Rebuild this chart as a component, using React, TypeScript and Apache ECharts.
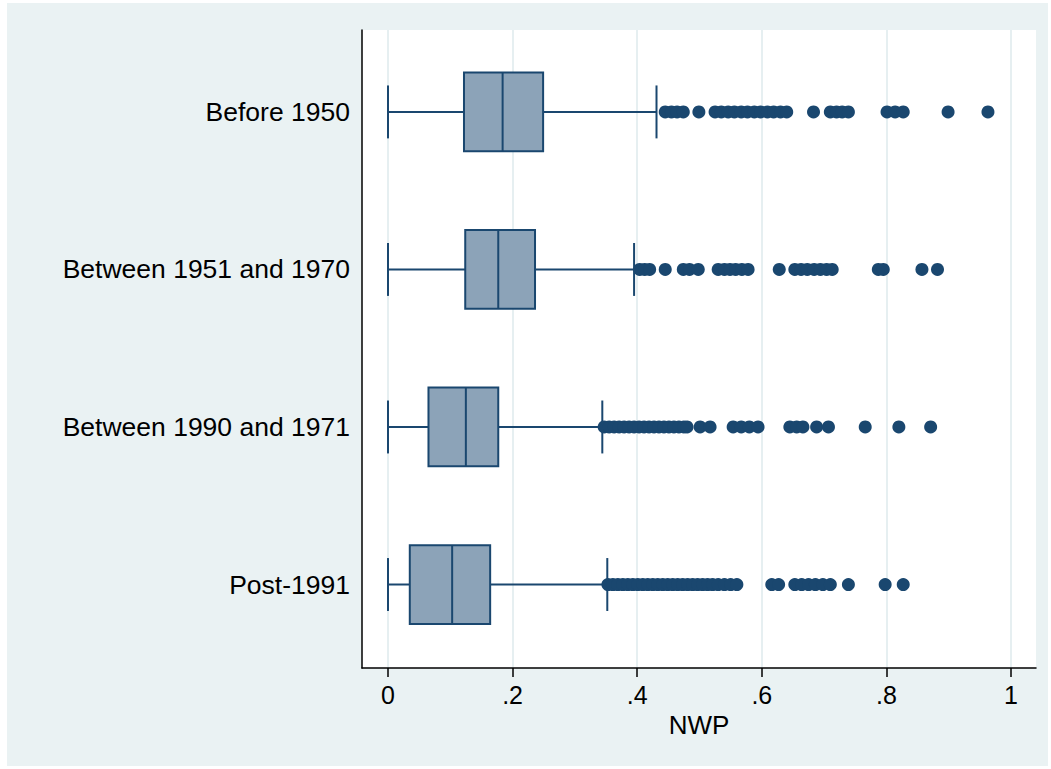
import React, { useEffect, useRef } from "react";
import * as echarts from "echarts";

const categories = ["Before 1950", "Between 1951 and 1970", "Between 1990 and 1971", "Post-1991"];

const lowerWhiskers = [0, 0, 0, 0];
const q1s = [0.122, 0.124, 0.065, 0.035];
const medians = [0.184, 0.177, 0.125, 0.103];
const q3s = [0.249, 0.236, 0.177, 0.164];
const upperWhiskers = [0.431, 0.395, 0.344, 0.352];

const outliersBefore1950 = [
  0.445, 0.455, 0.464, 0.474, 0.499, 0.525, 0.535, 0.546, 0.556, 0.567, 0.577, 0.588, 0.598,
  0.609, 0.619, 0.63, 0.64, 0.683, 0.71, 0.72, 0.729, 0.739, 0.801, 0.814, 0.827, 0.899, 0.963,
];
const outliers1951to1970 = [
  0.404, 0.412, 0.42, 0.445, 0.474, 0.484, 0.498, 0.53, 0.54, 0.549, 0.558, 0.568, 0.578, 0.628,
  0.653, 0.663, 0.673, 0.684, 0.694, 0.704, 0.713, 0.787, 0.795, 0.857, 0.882,
];
const outliers1971to1990 = [
  0.347, 0.355, 0.363, 0.371, 0.379, 0.387, 0.395, 0.403, 0.411, 0.419, 0.427, 0.435, 0.443,
  0.451, 0.459, 0.467, 0.475, 0.48, 0.501, 0.517, 0.554, 0.567, 0.58, 0.594, 0.645, 0.656, 0.666,
  0.688, 0.707, 0.766, 0.82, 0.871,
];
const outliersPost1991 = [
  0.353, 0.361, 0.369, 0.377, 0.385, 0.393, 0.401, 0.409, 0.417, 0.425, 0.433, 0.441, 0.449,
  0.457, 0.465, 0.473, 0.481, 0.489, 0.497, 0.505, 0.513, 0.521, 0.53, 0.54, 0.55, 0.56, 0.616,
  0.627, 0.653, 0.664, 0.675, 0.686, 0.698, 0.71, 0.739, 0.798, 0.827,
];
const outlierGroups = [outliersBefore1950, outliers1951to1970, outliers1971to1990, outliersPost1991];

const xTickValues = [0, 0.2, 0.4, 0.6, 0.8, 1];
const xTickLabels = ["0", ".2", ".4", ".6", ".8", "1"];
const yTickValues = [1, 2, 3, 4];

const NAVY = "#1A476F";
const BOX_FILL = "#8CA3B8";
const FONT = "'Liberation Sans', Arial, Helvetica, sans-serif";

export default function App() {
  const ref = useRef<HTMLDivElement>(null);

  useEffect(() => {
    const chart = echarts.init(ref.current!, null, { renderer: "svg" });

    const boxData = categories.map((_, i) => [
      i + 1,
      lowerWhiskers[i],
      q1s[i],
      medians[i],
      q3s[i],
      upperWhiskers[i],
    ]);
    const scatterData: number[][] = [];
    outlierGroups.forEach((g, i) => g.forEach((v) => scatterData.push([v, i + 1])));

    const lineStyle = { stroke: NAVY, lineWidth: 2 };

    chart.setOption({
      animation: false,
      backgroundColor: "#EAF2F3",
      textStyle: { fontFamily: FONT },
      grid: {
        left: 355,
        top: 27,
        width: 674,
        height: 638,
        show: true,
        backgroundColor: "#ffffff",
        borderWidth: 0,
      },
      xAxis: {
        type: "value",
        min: -0.0417,
        max: 1.0401,
        name: "NWP",
        nameLocation: "middle",
        nameGap: 42,
        nameTextStyle: { fontSize: 26, color: "#000", fontFamily: FONT },
        axisLine: { show: true, onZero: false, lineStyle: { color: "#000", width: 1.5 } },
        axisTick: {
          show: true,
          length: 9,
          customValues: xTickValues,
          lineStyle: { color: "#000", width: 1.5 },
        },
        axisLabel: {
          customValues: xTickValues,
          fontSize: 25,
          color: "#000",
          margin: 14,
          fontFamily: FONT,
          formatter: (v: number) => {
            let best = 0;
            xTickValues.forEach((t, i) => {
              if (Math.abs(t - v) < Math.abs(xTickValues[best] - v)) best = i;
            });
            return xTickLabels[best];
          },
        },
        splitLine: { show: true, lineStyle: { color: "#E6EFF1", width: 2 } },
      },
      yAxis: {
        type: "value",
        min: 0.48,
        max: 4.53,
        inverse: true,
        axisLine: { show: true, onZero: false, lineStyle: { color: "#000", width: 1.5 } },
        axisTick: { show: false, customValues: yTickValues },
        axisLabel: {
          customValues: yTickValues,
          fontSize: 26.5,
          color: "#000",
          margin: 12,
          fontFamily: FONT,
          formatter: (v: number) => categories[Math.round(v) - 1] ?? "",
        },
        splitLine: { show: false },
      },
      series: [
        {
          type: "custom",
          data: boxData,
          encode: { x: [1, 2, 3, 4, 5], y: 0 },
          z: 2,
          renderItem: (params: any, api: any) => {
            const cat = api.value(0);
            const unit = api.size([0, 1])[1];
            const boxHalf = unit * 0.25;
            const capHalf = unit * 0.168;
            const pMin = api.coord([api.value(1), cat]);
            const pQ1 = api.coord([api.value(2), cat]);
            const pMed = api.coord([api.value(3), cat]);
            const pQ3 = api.coord([api.value(4), cat]);
            const pMax = api.coord([api.value(5), cat]);
            const cy = pMin[1];
            return {
              type: "group",
              children: [
                { type: "line", shape: { x1: pMin[0], y1: cy, x2: pQ1[0], y2: cy }, style: lineStyle },
                { type: "line", shape: { x1: pQ3[0], y1: cy, x2: pMax[0], y2: cy }, style: lineStyle },
                {
                  type: "line",
                  shape: { x1: pMin[0], y1: cy - capHalf, x2: pMin[0], y2: cy + capHalf },
                  style: lineStyle,
                },
                {
                  type: "line",
                  shape: { x1: pMax[0], y1: cy - capHalf, x2: pMax[0], y2: cy + capHalf },
                  style: lineStyle,
                },
                {
                  type: "rect",
                  shape: { x: pQ1[0], y: cy - boxHalf, width: pQ3[0] - pQ1[0], height: boxHalf * 2 },
                  style: { fill: BOX_FILL, stroke: NAVY, lineWidth: 2 },
                },
                {
                  type: "line",
                  shape: { x1: pMed[0], y1: cy - boxHalf, x2: pMed[0], y2: cy + boxHalf },
                  style: lineStyle,
                },
              ],
            };
          },
        },
        {
          type: "scatter",
          data: scatterData,
          symbol: "circle",
          symbolSize: 13,
          itemStyle: { color: NAVY, opacity: 1 },
          z: 3,
        },
      ],
    });

    return () => chart.dispose();
  }, []);

  return (
    <div
      style={{
        position: "absolute",
        left: 0,
        top: 0,
        width: 1051,
        height: 769,
        background: "#ffffff",
      }}
    >
      <div ref={ref} style={{ position: "absolute", left: 7, top: 3, width: 1041, height: 763 }} />
    </div>
  );
}
